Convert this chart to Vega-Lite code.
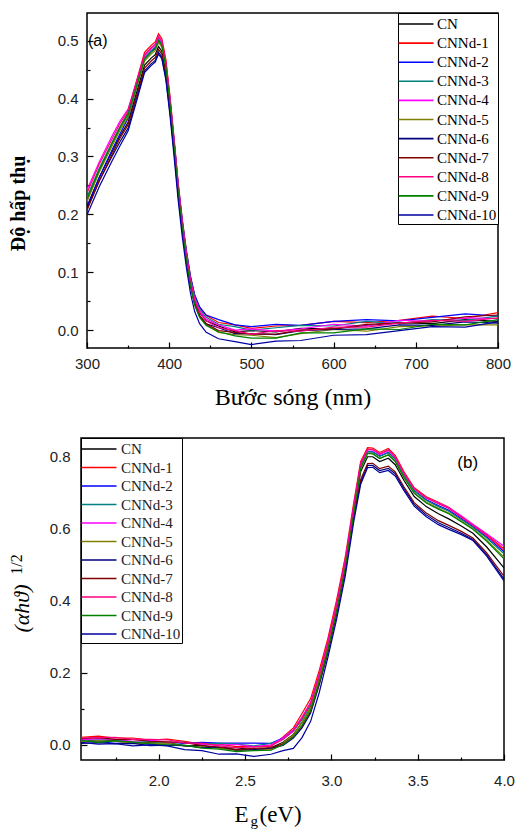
{
"$schema":"https://vega.github.io/schema/vega-lite/v6.json",
"background":"white",
"padding":{"left":7,"top":11,"right":10,"bottom":0},
"bounds":"flush",
"center":true,
"spacing":90,
"config":{
 "view":{"stroke":"black","strokeWidth":1.5},
 "axis":{"grid":false,"domain":false,"tickColor":"black","tickWidth":1.2,"labelFont":"Liberation Sans","labelFontSize":15,"labelColor":"#222222","labelFlush":false,"titleFont":"Liberation Serif, DejaVu Serif","titleColor":"black","titleFontWeight":"normal"}
},
"datasets":{
"a":[
{"s":"CN","x":300,"y":0.214},{"s":"CN","x":315,"y":0.264},{"s":"CN","x":330,"y":0.307},{"s":"CN","x":340,"y":0.335},{"s":"CN","x":350,"y":0.359},{"s":"CN","x":360,"y":0.409},{"s":"CN","x":370,"y":0.458},{"s":"CN","x":378,"y":0.470},{"s":"CN","x":383,"y":0.476},{"s":"CN","x":387,"y":0.490},{"s":"CN","x":391,"y":0.482},{"s":"CN","x":396,"y":0.445},{"s":"CN","x":401,"y":0.384},{"s":"CN","x":406,"y":0.315},{"s":"CN","x":411,"y":0.239},{"s":"CN","x":416,"y":0.177},{"s":"CN","x":421,"y":0.124},{"s":"CN","x":426,"y":0.082},{"s":"CN","x":431,"y":0.051},{"s":"CN","x":437,"y":0.030},{"s":"CN","x":445,"y":0.016},{"s":"CN","x":460,"y":0.007},{"s":"CN","x":480,"y":-0.003},{"s":"CN","x":500,"y":-0.001},{"s":"CN","x":530,"y":-0.003},{"s":"CN","x":560,"y":0.003},{"s":"CN","x":600,"y":0.002},{"s":"CN","x":640,"y":0.008},{"s":"CN","x":680,"y":0.013},{"s":"CN","x":720,"y":0.011},{"s":"CN","x":760,"y":0.018},{"s":"CN","x":800,"y":0.015},
{"s":"CNNd-1","x":300,"y":0.224},{"s":"CNNd-1","x":315,"y":0.276},{"s":"CNNd-1","x":330,"y":0.322},{"s":"CNNd-1","x":340,"y":0.351},{"s":"CNNd-1","x":350,"y":0.377},{"s":"CNNd-1","x":360,"y":0.429},{"s":"CNNd-1","x":370,"y":0.480},{"s":"CNNd-1","x":378,"y":0.492},{"s":"CNNd-1","x":383,"y":0.498},{"s":"CNNd-1","x":387,"y":0.512},{"s":"CNNd-1","x":391,"y":0.504},{"s":"CNNd-1","x":396,"y":0.467},{"s":"CNNd-1","x":401,"y":0.404},{"s":"CNNd-1","x":406,"y":0.331},{"s":"CNNd-1","x":411,"y":0.254},{"s":"CNNd-1","x":416,"y":0.191},{"s":"CNNd-1","x":421,"y":0.137},{"s":"CNNd-1","x":426,"y":0.092},{"s":"CNNd-1","x":431,"y":0.060},{"s":"CNNd-1","x":437,"y":0.039},{"s":"CNNd-1","x":445,"y":0.025},{"s":"CNNd-1","x":460,"y":0.013},{"s":"CNNd-1","x":480,"y":0.009},{"s":"CNNd-1","x":500,"y":0.003},{"s":"CNNd-1","x":530,"y":0.007},{"s":"CNNd-1","x":560,"y":0.008},{"s":"CNNd-1","x":600,"y":0.015},{"s":"CNNd-1","x":640,"y":0.013},{"s":"CNNd-1","x":680,"y":0.017},{"s":"CNNd-1","x":720,"y":0.024},{"s":"CNNd-1","x":760,"y":0.020},{"s":"CNNd-1","x":800,"y":0.030},
{"s":"CNNd-2","x":300,"y":0.212},{"s":"CNNd-2","x":315,"y":0.264},{"s":"CNNd-2","x":330,"y":0.310},{"s":"CNNd-2","x":340,"y":0.339},{"s":"CNNd-2","x":350,"y":0.366},{"s":"CNNd-2","x":360,"y":0.418},{"s":"CNNd-2","x":370,"y":0.470},{"s":"CNNd-2","x":378,"y":0.482},{"s":"CNNd-2","x":383,"y":0.488},{"s":"CNNd-2","x":387,"y":0.502},{"s":"CNNd-2","x":391,"y":0.494},{"s":"CNNd-2","x":396,"y":0.457},{"s":"CNNd-2","x":401,"y":0.396},{"s":"CNNd-2","x":406,"y":0.326},{"s":"CNNd-2","x":411,"y":0.250},{"s":"CNNd-2","x":416,"y":0.188},{"s":"CNNd-2","x":421,"y":0.135},{"s":"CNNd-2","x":426,"y":0.092},{"s":"CNNd-2","x":431,"y":0.061},{"s":"CNNd-2","x":437,"y":0.040},{"s":"CNNd-2","x":445,"y":0.026},{"s":"CNNd-2","x":460,"y":0.018},{"s":"CNNd-2","x":480,"y":0.009},{"s":"CNNd-2","x":500,"y":0.006},{"s":"CNNd-2","x":530,"y":0.010},{"s":"CNNd-2","x":560,"y":0.008},{"s":"CNNd-2","x":600,"y":0.015},{"s":"CNNd-2","x":640,"y":0.018},{"s":"CNNd-2","x":680,"y":0.016},{"s":"CNNd-2","x":720,"y":0.022},{"s":"CNNd-2","x":760,"y":0.028},{"s":"CNNd-2","x":800,"y":0.024},
{"s":"CNNd-3","x":300,"y":0.230},{"s":"CNNd-3","x":315,"y":0.280},{"s":"CNNd-3","x":330,"y":0.323},{"s":"CNNd-3","x":340,"y":0.351},{"s":"CNNd-3","x":350,"y":0.374},{"s":"CNNd-3","x":360,"y":0.423},{"s":"CNNd-3","x":370,"y":0.471},{"s":"CNNd-3","x":378,"y":0.483},{"s":"CNNd-3","x":383,"y":0.489},{"s":"CNNd-3","x":387,"y":0.503},{"s":"CNNd-3","x":391,"y":0.495},{"s":"CNNd-3","x":396,"y":0.458},{"s":"CNNd-3","x":401,"y":0.396},{"s":"CNNd-3","x":406,"y":0.325},{"s":"CNNd-3","x":411,"y":0.248},{"s":"CNNd-3","x":416,"y":0.185},{"s":"CNNd-3","x":421,"y":0.132},{"s":"CNNd-3","x":426,"y":0.088},{"s":"CNNd-3","x":431,"y":0.057},{"s":"CNNd-3","x":437,"y":0.036},{"s":"CNNd-3","x":445,"y":0.022},{"s":"CNNd-3","x":460,"y":0.010},{"s":"CNNd-3","x":480,"y":0.006},{"s":"CNNd-3","x":500,"y":0.000},{"s":"CNNd-3","x":530,"y":0.004},{"s":"CNNd-3","x":560,"y":0.008},{"s":"CNNd-3","x":600,"y":0.007},{"s":"CNNd-3","x":640,"y":0.015},{"s":"CNNd-3","x":680,"y":0.011},{"s":"CNNd-3","x":720,"y":0.018},{"s":"CNNd-3","x":760,"y":0.017},{"s":"CNNd-3","x":800,"y":0.024},
{"s":"CNNd-4","x":300,"y":0.242},{"s":"CNNd-4","x":315,"y":0.291},{"s":"CNNd-4","x":330,"y":0.334},{"s":"CNNd-4","x":340,"y":0.361},{"s":"CNNd-4","x":350,"y":0.382},{"s":"CNNd-4","x":360,"y":0.428},{"s":"CNNd-4","x":370,"y":0.474},{"s":"CNNd-4","x":378,"y":0.486},{"s":"CNNd-4","x":383,"y":0.492},{"s":"CNNd-4","x":387,"y":0.506},{"s":"CNNd-4","x":391,"y":0.498},{"s":"CNNd-4","x":396,"y":0.461},{"s":"CNNd-4","x":401,"y":0.398},{"s":"CNNd-4","x":406,"y":0.325},{"s":"CNNd-4","x":411,"y":0.248},{"s":"CNNd-4","x":416,"y":0.185},{"s":"CNNd-4","x":421,"y":0.131},{"s":"CNNd-4","x":426,"y":0.086},{"s":"CNNd-4","x":431,"y":0.054},{"s":"CNNd-4","x":437,"y":0.033},{"s":"CNNd-4","x":445,"y":0.019},{"s":"CNNd-4","x":460,"y":0.009},{"s":"CNNd-4","x":480,"y":0.000},{"s":"CNNd-4","x":500,"y":0.002},{"s":"CNNd-4","x":530,"y":-0.002},{"s":"CNNd-4","x":560,"y":0.002},{"s":"CNNd-4","x":600,"y":0.010},{"s":"CNNd-4","x":640,"y":0.007},{"s":"CNNd-4","x":680,"y":0.017},{"s":"CNNd-4","x":720,"y":0.015},{"s":"CNNd-4","x":760,"y":0.021},{"s":"CNNd-4","x":800,"y":0.020},
{"s":"CNNd-5","x":300,"y":0.222},{"s":"CNNd-5","x":315,"y":0.273},{"s":"CNNd-5","x":330,"y":0.317},{"s":"CNNd-5","x":340,"y":0.345},{"s":"CNNd-5","x":350,"y":0.368},{"s":"CNNd-5","x":360,"y":0.417},{"s":"CNNd-5","x":370,"y":0.465},{"s":"CNNd-5","x":378,"y":0.477},{"s":"CNNd-5","x":383,"y":0.483},{"s":"CNNd-5","x":387,"y":0.497},{"s":"CNNd-5","x":391,"y":0.489},{"s":"CNNd-5","x":396,"y":0.452},{"s":"CNNd-5","x":401,"y":0.388},{"s":"CNNd-5","x":406,"y":0.316},{"s":"CNNd-5","x":411,"y":0.239},{"s":"CNNd-5","x":416,"y":0.175},{"s":"CNNd-5","x":421,"y":0.121},{"s":"CNNd-5","x":426,"y":0.077},{"s":"CNNd-5","x":431,"y":0.044},{"s":"CNNd-5","x":437,"y":0.023},{"s":"CNNd-5","x":445,"y":0.009},{"s":"CNNd-5","x":460,"y":-0.004},{"s":"CNNd-5","x":480,"y":-0.008},{"s":"CNNd-5","x":500,"y":-0.009},{"s":"CNNd-5","x":530,"y":-0.013},{"s":"CNNd-5","x":560,"y":-0.006},{"s":"CNNd-5","x":600,"y":0.001},{"s":"CNNd-5","x":640,"y":-0.002},{"s":"CNNd-5","x":680,"y":0.006},{"s":"CNNd-5","x":720,"y":0.007},{"s":"CNNd-5","x":760,"y":0.009},{"s":"CNNd-5","x":800,"y":0.009},
{"s":"CNNd-6","x":300,"y":0.210},{"s":"CNNd-6","x":315,"y":0.258},{"s":"CNNd-6","x":330,"y":0.299},{"s":"CNNd-6","x":340,"y":0.325},{"s":"CNNd-6","x":350,"y":0.349},{"s":"CNNd-6","x":360,"y":0.399},{"s":"CNNd-6","x":370,"y":0.448},{"s":"CNNd-6","x":378,"y":0.460},{"s":"CNNd-6","x":383,"y":0.466},{"s":"CNNd-6","x":387,"y":0.480},{"s":"CNNd-6","x":391,"y":0.472},{"s":"CNNd-6","x":396,"y":0.435},{"s":"CNNd-6","x":401,"y":0.376},{"s":"CNNd-6","x":406,"y":0.307},{"s":"CNNd-6","x":411,"y":0.232},{"s":"CNNd-6","x":416,"y":0.171},{"s":"CNNd-6","x":421,"y":0.119},{"s":"CNNd-6","x":426,"y":0.076},{"s":"CNNd-6","x":431,"y":0.046},{"s":"CNNd-6","x":437,"y":0.025},{"s":"CNNd-6","x":445,"y":0.011},{"s":"CNNd-6","x":460,"y":0.004},{"s":"CNNd-6","x":480,"y":-0.006},{"s":"CNNd-6","x":500,"y":-0.006},{"s":"CNNd-6","x":530,"y":-0.008},{"s":"CNNd-6","x":560,"y":-0.001},{"s":"CNNd-6","x":600,"y":0.001},{"s":"CNNd-6","x":640,"y":0.002},{"s":"CNNd-6","x":680,"y":0.009},{"s":"CNNd-6","x":720,"y":0.008},{"s":"CNNd-6","x":760,"y":0.014},{"s":"CNNd-6","x":800,"y":0.012},
{"s":"CNNd-7","x":300,"y":0.207},{"s":"CNNd-7","x":315,"y":0.258},{"s":"CNNd-7","x":330,"y":0.302},{"s":"CNNd-7","x":340,"y":0.331},{"s":"CNNd-7","x":350,"y":0.355},{"s":"CNNd-7","x":360,"y":0.404},{"s":"CNNd-7","x":370,"y":0.453},{"s":"CNNd-7","x":378,"y":0.465},{"s":"CNNd-7","x":383,"y":0.471},{"s":"CNNd-7","x":387,"y":0.485},{"s":"CNNd-7","x":391,"y":0.477},{"s":"CNNd-7","x":396,"y":0.440},{"s":"CNNd-7","x":401,"y":0.379},{"s":"CNNd-7","x":406,"y":0.310},{"s":"CNNd-7","x":411,"y":0.234},{"s":"CNNd-7","x":416,"y":0.172},{"s":"CNNd-7","x":421,"y":0.119},{"s":"CNNd-7","x":426,"y":0.077},{"s":"CNNd-7","x":431,"y":0.046},{"s":"CNNd-7","x":437,"y":0.025},{"s":"CNNd-7","x":445,"y":0.011},{"s":"CNNd-7","x":460,"y":-0.001},{"s":"CNNd-7","x":480,"y":-0.004},{"s":"CNNd-7","x":500,"y":-0.007},{"s":"CNNd-7","x":530,"y":-0.007},{"s":"CNNd-7","x":560,"y":0.000},{"s":"CNNd-7","x":600,"y":0.002},{"s":"CNNd-7","x":640,"y":0.010},{"s":"CNNd-7","x":680,"y":0.012},{"s":"CNNd-7","x":720,"y":0.014},{"s":"CNNd-7","x":760,"y":0.023},{"s":"CNNd-7","x":800,"y":0.026},
{"s":"CNNd-8","x":300,"y":0.237},{"s":"CNNd-8","x":315,"y":0.287},{"s":"CNNd-8","x":330,"y":0.329},{"s":"CNNd-8","x":340,"y":0.357},{"s":"CNNd-8","x":350,"y":0.380},{"s":"CNNd-8","x":360,"y":0.428},{"s":"CNNd-8","x":370,"y":0.476},{"s":"CNNd-8","x":378,"y":0.488},{"s":"CNNd-8","x":383,"y":0.494},{"s":"CNNd-8","x":387,"y":0.508},{"s":"CNNd-8","x":391,"y":0.500},{"s":"CNNd-8","x":396,"y":0.463},{"s":"CNNd-8","x":401,"y":0.398},{"s":"CNNd-8","x":406,"y":0.325},{"s":"CNNd-8","x":411,"y":0.247},{"s":"CNNd-8","x":416,"y":0.183},{"s":"CNNd-8","x":421,"y":0.128},{"s":"CNNd-8","x":426,"y":0.084},{"s":"CNNd-8","x":431,"y":0.051},{"s":"CNNd-8","x":437,"y":0.030},{"s":"CNNd-8","x":445,"y":0.016},{"s":"CNNd-8","x":460,"y":0.004},{"s":"CNNd-8","x":480,"y":-0.001},{"s":"CNNd-8","x":500,"y":-0.007},{"s":"CNNd-8","x":530,"y":-0.001},{"s":"CNNd-8","x":560,"y":-0.002},{"s":"CNNd-8","x":600,"y":0.005},{"s":"CNNd-8","x":640,"y":0.005},{"s":"CNNd-8","x":680,"y":0.012},{"s":"CNNd-8","x":720,"y":0.017},{"s":"CNNd-8","x":760,"y":0.015},{"s":"CNNd-8","x":800,"y":0.021},
{"s":"CNNd-9","x":300,"y":0.227},{"s":"CNNd-9","x":315,"y":0.277},{"s":"CNNd-9","x":330,"y":0.321},{"s":"CNNd-9","x":340,"y":0.349},{"s":"CNNd-9","x":350,"y":0.372},{"s":"CNNd-9","x":360,"y":0.420},{"s":"CNNd-9","x":370,"y":0.468},{"s":"CNNd-9","x":378,"y":0.480},{"s":"CNNd-9","x":383,"y":0.486},{"s":"CNNd-9","x":387,"y":0.500},{"s":"CNNd-9","x":391,"y":0.492},{"s":"CNNd-9","x":396,"y":0.455},{"s":"CNNd-9","x":401,"y":0.390},{"s":"CNNd-9","x":406,"y":0.317},{"s":"CNNd-9","x":411,"y":0.239},{"s":"CNNd-9","x":416,"y":0.175},{"s":"CNNd-9","x":421,"y":0.120},{"s":"CNNd-9","x":426,"y":0.076},{"s":"CNNd-9","x":431,"y":0.043},{"s":"CNNd-9","x":437,"y":0.022},{"s":"CNNd-9","x":445,"y":0.008},{"s":"CNNd-9","x":460,"y":-0.003},{"s":"CNNd-9","x":480,"y":-0.010},{"s":"CNNd-9","x":500,"y":-0.014},{"s":"CNNd-9","x":530,"y":-0.014},{"s":"CNNd-9","x":560,"y":-0.005},{"s":"CNNd-9","x":600,"y":-0.005},{"s":"CNNd-9","x":640,"y":0.002},{"s":"CNNd-9","x":680,"y":0.001},{"s":"CNNd-9","x":720,"y":0.010},{"s":"CNNd-9","x":760,"y":0.009},{"s":"CNNd-9","x":800,"y":0.018},
{"s":"CNNd-10","x":300,"y":0.199},{"s":"CNNd-10","x":315,"y":0.248},{"s":"CNNd-10","x":330,"y":0.291},{"s":"CNNd-10","x":340,"y":0.318},{"s":"CNNd-10","x":350,"y":0.344},{"s":"CNNd-10","x":360,"y":0.394},{"s":"CNNd-10","x":370,"y":0.445},{"s":"CNNd-10","x":378,"y":0.457},{"s":"CNNd-10","x":383,"y":0.463},{"s":"CNNd-10","x":387,"y":0.477},{"s":"CNNd-10","x":391,"y":0.469},{"s":"CNNd-10","x":396,"y":0.432},{"s":"CNNd-10","x":401,"y":0.370},{"s":"CNNd-10","x":406,"y":0.299},{"s":"CNNd-10","x":411,"y":0.223},{"s":"CNNd-10","x":416,"y":0.160},{"s":"CNNd-10","x":421,"y":0.107},{"s":"CNNd-10","x":426,"y":0.063},{"s":"CNNd-10","x":431,"y":0.032},{"s":"CNNd-10","x":437,"y":0.011},{"s":"CNNd-10","x":445,"y":-0.004},{"s":"CNNd-10","x":460,"y":-0.015},{"s":"CNNd-10","x":480,"y":-0.020},{"s":"CNNd-10","x":500,"y":-0.025},{"s":"CNNd-10","x":530,"y":-0.019},{"s":"CNNd-10","x":560,"y":-0.018},{"s":"CNNd-10","x":600,"y":-0.009},{"s":"CNNd-10","x":640,"y":-0.008},{"s":"CNNd-10","x":680,"y":-0.001},{"s":"CNNd-10","x":720,"y":0.006},{"s":"CNNd-10","x":760,"y":0.005},{"s":"CNNd-10","x":800,"y":0.014}
],
"b":[
{"s":"CN","x":1.55,"y":0.015},{"s":"CN","x":1.65,"y":0.010},{"s":"CN","x":1.75,"y":0.013},{"s":"CN","x":1.85,"y":0.006},{"s":"CN","x":1.95,"y":0.007},{"s":"CN","x":2.05,"y":0.006},{"s":"CN","x":2.15,"y":-0.003},{"s":"CN","x":2.25,"y":-0.002},{"s":"CN","x":2.35,"y":-0.008},{"s":"CN","x":2.45,"y":-0.008},{"s":"CN","x":2.55,"y":-0.014},{"s":"CN","x":2.65,"y":-0.008},{"s":"CN","x":2.72,"y":0.007},{"s":"CN","x":2.78,"y":0.029},{"s":"CN","x":2.83,"y":0.062},{"s":"CN","x":2.88,"y":0.103},{"s":"CN","x":2.93,"y":0.181},{"s":"CN","x":2.98,"y":0.270},{"s":"CN","x":3.03,"y":0.375},{"s":"CN","x":3.08,"y":0.494},{"s":"CN","x":3.13,"y":0.647},{"s":"CN","x":3.17,"y":0.757},{"s":"CN","x":3.21,"y":0.798},{"s":"CN","x":3.24,"y":0.798},{"s":"CN","x":3.28,"y":0.785},{"s":"CN","x":3.33,"y":0.794},{"s":"CN","x":3.37,"y":0.776},{"s":"CN","x":3.42,"y":0.733},{"s":"CN","x":3.48,"y":0.688},{"s":"CN","x":3.55,"y":0.660},{"s":"CN","x":3.62,"y":0.640},{"s":"CN","x":3.68,"y":0.626},{"s":"CN","x":3.75,"y":0.607},{"s":"CN","x":3.82,"y":0.586},{"s":"CN","x":3.9,"y":0.548},{"s":"CN","x":4.0,"y":0.490},
{"s":"CNNd-1","x":1.55,"y":0.021},{"s":"CNNd-1","x":1.65,"y":0.024},{"s":"CNNd-1","x":1.75,"y":0.019},{"s":"CNNd-1","x":1.85,"y":0.019},{"s":"CNNd-1","x":1.95,"y":0.013},{"s":"CNNd-1","x":2.05,"y":0.016},{"s":"CNNd-1","x":2.15,"y":0.010},{"s":"CNNd-1","x":2.25,"y":0.002},{"s":"CNNd-1","x":2.35,"y":0.002},{"s":"CNNd-1","x":2.45,"y":-0.005},{"s":"CNNd-1","x":2.55,"y":-0.005},{"s":"CNNd-1","x":2.65,"y":-0.005},{"s":"CNNd-1","x":2.72,"y":0.022},{"s":"CNNd-1","x":2.78,"y":0.047},{"s":"CNNd-1","x":2.83,"y":0.087},{"s":"CNNd-1","x":2.88,"y":0.128},{"s":"CNNd-1","x":2.93,"y":0.206},{"s":"CNNd-1","x":2.98,"y":0.295},{"s":"CNNd-1","x":3.03,"y":0.400},{"s":"CNNd-1","x":3.08,"y":0.519},{"s":"CNNd-1","x":3.13,"y":0.672},{"s":"CNNd-1","x":3.17,"y":0.785},{"s":"CNNd-1","x":3.21,"y":0.823},{"s":"CNNd-1","x":3.24,"y":0.822},{"s":"CNNd-1","x":3.28,"y":0.810},{"s":"CNNd-1","x":3.33,"y":0.821},{"s":"CNNd-1","x":3.37,"y":0.802},{"s":"CNNd-1","x":3.42,"y":0.757},{"s":"CNNd-1","x":3.48,"y":0.712},{"s":"CNNd-1","x":3.55,"y":0.687},{"s":"CNNd-1","x":3.62,"y":0.672},{"s":"CNNd-1","x":3.68,"y":0.658},{"s":"CNNd-1","x":3.75,"y":0.634},{"s":"CNNd-1","x":3.82,"y":0.610},{"s":"CNNd-1","x":3.9,"y":0.582},{"s":"CNNd-1","x":4.0,"y":0.543},
{"s":"CNNd-2","x":1.55,"y":0.010},{"s":"CNNd-2","x":1.65,"y":0.009},{"s":"CNNd-2","x":1.75,"y":0.004},{"s":"CNNd-2","x":1.85,"y":0.007},{"s":"CNNd-2","x":1.95,"y":0.002},{"s":"CNNd-2","x":2.05,"y":-0.002},{"s":"CNNd-2","x":2.15,"y":0.004},{"s":"CNNd-2","x":2.25,"y":0.007},{"s":"CNNd-2","x":2.35,"y":0.005},{"s":"CNNd-2","x":2.45,"y":0.005},{"s":"CNNd-2","x":2.55,"y":0.005},{"s":"CNNd-2","x":2.65,"y":0.004},{"s":"CNNd-2","x":2.72,"y":0.019},{"s":"CNNd-2","x":2.78,"y":0.041},{"s":"CNNd-2","x":2.83,"y":0.072},{"s":"CNNd-2","x":2.88,"y":0.113},{"s":"CNNd-2","x":2.93,"y":0.191},{"s":"CNNd-2","x":2.98,"y":0.280},{"s":"CNNd-2","x":3.03,"y":0.385},{"s":"CNNd-2","x":3.08,"y":0.504},{"s":"CNNd-2","x":3.13,"y":0.657},{"s":"CNNd-2","x":3.17,"y":0.774},{"s":"CNNd-2","x":3.21,"y":0.813},{"s":"CNNd-2","x":3.24,"y":0.812},{"s":"CNNd-2","x":3.28,"y":0.800},{"s":"CNNd-2","x":3.33,"y":0.810},{"s":"CNNd-2","x":3.37,"y":0.792},{"s":"CNNd-2","x":3.42,"y":0.748},{"s":"CNNd-2","x":3.48,"y":0.704},{"s":"CNNd-2","x":3.55,"y":0.679},{"s":"CNNd-2","x":3.62,"y":0.663},{"s":"CNNd-2","x":3.68,"y":0.650},{"s":"CNNd-2","x":3.75,"y":0.628},{"s":"CNNd-2","x":3.82,"y":0.605},{"s":"CNNd-2","x":3.9,"y":0.576},{"s":"CNNd-2","x":4.0,"y":0.535},
{"s":"CNNd-3","x":1.55,"y":0.013},{"s":"CNNd-3","x":1.65,"y":0.014},{"s":"CNNd-3","x":1.75,"y":0.014},{"s":"CNNd-3","x":1.85,"y":0.007},{"s":"CNNd-3","x":1.95,"y":0.009},{"s":"CNNd-3","x":2.05,"y":0.005},{"s":"CNNd-3","x":2.15,"y":0.007},{"s":"CNNd-3","x":2.25,"y":0.002},{"s":"CNNd-3","x":2.35,"y":0.004},{"s":"CNNd-3","x":2.45,"y":0.002},{"s":"CNNd-3","x":2.55,"y":-0.003},{"s":"CNNd-3","x":2.65,"y":0.004},{"s":"CNNd-3","x":2.72,"y":0.016},{"s":"CNNd-3","x":2.78,"y":0.038},{"s":"CNNd-3","x":2.83,"y":0.070},{"s":"CNNd-3","x":2.88,"y":0.111},{"s":"CNNd-3","x":2.93,"y":0.189},{"s":"CNNd-3","x":2.98,"y":0.278},{"s":"CNNd-3","x":3.03,"y":0.383},{"s":"CNNd-3","x":3.08,"y":0.502},{"s":"CNNd-3","x":3.13,"y":0.655},{"s":"CNNd-3","x":3.17,"y":0.772},{"s":"CNNd-3","x":3.21,"y":0.812},{"s":"CNNd-3","x":3.24,"y":0.811},{"s":"CNNd-3","x":3.28,"y":0.799},{"s":"CNNd-3","x":3.33,"y":0.809},{"s":"CNNd-3","x":3.37,"y":0.791},{"s":"CNNd-3","x":3.42,"y":0.747},{"s":"CNNd-3","x":3.48,"y":0.703},{"s":"CNNd-3","x":3.55,"y":0.677},{"s":"CNNd-3","x":3.62,"y":0.660},{"s":"CNNd-3","x":3.68,"y":0.647},{"s":"CNNd-3","x":3.75,"y":0.625},{"s":"CNNd-3","x":3.82,"y":0.603},{"s":"CNNd-3","x":3.9,"y":0.573},{"s":"CNNd-3","x":4.0,"y":0.529},
{"s":"CNNd-4","x":1.55,"y":0.014},{"s":"CNNd-4","x":1.65,"y":0.017},{"s":"CNNd-4","x":1.75,"y":0.015},{"s":"CNNd-4","x":1.85,"y":0.010},{"s":"CNNd-4","x":1.95,"y":0.013},{"s":"CNNd-4","x":2.05,"y":0.007},{"s":"CNNd-4","x":2.15,"y":0.007},{"s":"CNNd-4","x":2.25,"y":0.001},{"s":"CNNd-4","x":2.35,"y":-0.001},{"s":"CNNd-4","x":2.45,"y":0.001},{"s":"CNNd-4","x":2.55,"y":-0.005},{"s":"CNNd-4","x":2.65,"y":0.000},{"s":"CNNd-4","x":2.72,"y":0.019},{"s":"CNNd-4","x":2.78,"y":0.041},{"s":"CNNd-4","x":2.83,"y":0.077},{"s":"CNNd-4","x":2.88,"y":0.118},{"s":"CNNd-4","x":2.93,"y":0.196},{"s":"CNNd-4","x":2.98,"y":0.285},{"s":"CNNd-4","x":3.03,"y":0.390},{"s":"CNNd-4","x":3.08,"y":0.509},{"s":"CNNd-4","x":3.13,"y":0.662},{"s":"CNNd-4","x":3.17,"y":0.779},{"s":"CNNd-4","x":3.21,"y":0.818},{"s":"CNNd-4","x":3.24,"y":0.817},{"s":"CNNd-4","x":3.28,"y":0.804},{"s":"CNNd-4","x":3.33,"y":0.815},{"s":"CNNd-4","x":3.37,"y":0.796},{"s":"CNNd-4","x":3.42,"y":0.752},{"s":"CNNd-4","x":3.48,"y":0.709},{"s":"CNNd-4","x":3.55,"y":0.684},{"s":"CNNd-4","x":3.62,"y":0.670},{"s":"CNNd-4","x":3.68,"y":0.657},{"s":"CNNd-4","x":3.75,"y":0.635},{"s":"CNNd-4","x":3.82,"y":0.611},{"s":"CNNd-4","x":3.9,"y":0.585},{"s":"CNNd-4","x":4.0,"y":0.550},
{"s":"CNNd-5","x":1.55,"y":0.009},{"s":"CNNd-5","x":1.65,"y":0.011},{"s":"CNNd-5","x":1.75,"y":0.010},{"s":"CNNd-5","x":1.85,"y":0.004},{"s":"CNNd-5","x":1.95,"y":0.005},{"s":"CNNd-5","x":2.05,"y":0.005},{"s":"CNNd-5","x":2.15,"y":-0.003},{"s":"CNNd-5","x":2.25,"y":-0.006},{"s":"CNNd-5","x":2.35,"y":-0.009},{"s":"CNNd-5","x":2.45,"y":-0.016},{"s":"CNNd-5","x":2.55,"y":-0.013},{"s":"CNNd-5","x":2.65,"y":-0.013},{"s":"CNNd-5","x":2.72,"y":0.005},{"s":"CNNd-5","x":2.78,"y":0.028},{"s":"CNNd-5","x":2.83,"y":0.062},{"s":"CNNd-5","x":2.88,"y":0.103},{"s":"CNNd-5","x":2.93,"y":0.181},{"s":"CNNd-5","x":2.98,"y":0.270},{"s":"CNNd-5","x":3.03,"y":0.375},{"s":"CNNd-5","x":3.08,"y":0.494},{"s":"CNNd-5","x":3.13,"y":0.647},{"s":"CNNd-5","x":3.17,"y":0.767},{"s":"CNNd-5","x":3.21,"y":0.808},{"s":"CNNd-5","x":3.24,"y":0.807},{"s":"CNNd-5","x":3.28,"y":0.794},{"s":"CNNd-5","x":3.33,"y":0.804},{"s":"CNNd-5","x":3.37,"y":0.786},{"s":"CNNd-5","x":3.42,"y":0.742},{"s":"CNNd-5","x":3.48,"y":0.698},{"s":"CNNd-5","x":3.55,"y":0.672},{"s":"CNNd-5","x":3.62,"y":0.655},{"s":"CNNd-5","x":3.68,"y":0.642},{"s":"CNNd-5","x":3.75,"y":0.621},{"s":"CNNd-5","x":3.82,"y":0.599},{"s":"CNNd-5","x":3.9,"y":0.567},{"s":"CNNd-5","x":4.0,"y":0.520},
{"s":"CNNd-6","x":1.55,"y":0.004},{"s":"CNNd-6","x":1.65,"y":0.006},{"s":"CNNd-6","x":1.75,"y":0.003},{"s":"CNNd-6","x":1.85,"y":0.004},{"s":"CNNd-6","x":1.95,"y":-0.002},{"s":"CNNd-6","x":2.05,"y":-0.001},{"s":"CNNd-6","x":2.15,"y":-0.002},{"s":"CNNd-6","x":2.25,"y":-0.008},{"s":"CNNd-6","x":2.35,"y":-0.006},{"s":"CNNd-6","x":2.45,"y":-0.014},{"s":"CNNd-6","x":2.55,"y":-0.013},{"s":"CNNd-6","x":2.65,"y":-0.009},{"s":"CNNd-6","x":2.72,"y":-0.002},{"s":"CNNd-6","x":2.78,"y":0.019},{"s":"CNNd-6","x":2.83,"y":0.047},{"s":"CNNd-6","x":2.88,"y":0.088},{"s":"CNNd-6","x":2.93,"y":0.166},{"s":"CNNd-6","x":2.98,"y":0.255},{"s":"CNNd-6","x":3.03,"y":0.360},{"s":"CNNd-6","x":3.08,"y":0.479},{"s":"CNNd-6","x":3.13,"y":0.632},{"s":"CNNd-6","x":3.17,"y":0.728},{"s":"CNNd-6","x":3.21,"y":0.774},{"s":"CNNd-6","x":3.24,"y":0.774},{"s":"CNNd-6","x":3.28,"y":0.760},{"s":"CNNd-6","x":3.33,"y":0.766},{"s":"CNNd-6","x":3.37,"y":0.751},{"s":"CNNd-6","x":3.42,"y":0.710},{"s":"CNNd-6","x":3.48,"y":0.666},{"s":"CNNd-6","x":3.55,"y":0.637},{"s":"CNNd-6","x":3.62,"y":0.615},{"s":"CNNd-6","x":3.68,"y":0.602},{"s":"CNNd-6","x":3.75,"y":0.587},{"s":"CNNd-6","x":3.82,"y":0.569},{"s":"CNNd-6","x":3.9,"y":0.527},{"s":"CNNd-6","x":4.0,"y":0.459},
{"s":"CNNd-7","x":1.55,"y":0.017},{"s":"CNNd-7","x":1.65,"y":0.020},{"s":"CNNd-7","x":1.75,"y":0.015},{"s":"CNNd-7","x":1.85,"y":0.015},{"s":"CNNd-7","x":1.95,"y":0.010},{"s":"CNNd-7","x":2.05,"y":0.008},{"s":"CNNd-7","x":2.15,"y":0.007},{"s":"CNNd-7","x":2.25,"y":-0.002},{"s":"CNNd-7","x":2.35,"y":-0.006},{"s":"CNNd-7","x":2.45,"y":-0.013},{"s":"CNNd-7","x":2.55,"y":-0.010},{"s":"CNNd-7","x":2.65,"y":-0.008},{"s":"CNNd-7","x":2.72,"y":0.002},{"s":"CNNd-7","x":2.78,"y":0.023},{"s":"CNNd-7","x":2.83,"y":0.052},{"s":"CNNd-7","x":2.88,"y":0.093},{"s":"CNNd-7","x":2.93,"y":0.171},{"s":"CNNd-7","x":2.98,"y":0.260},{"s":"CNNd-7","x":3.03,"y":0.365},{"s":"CNNd-7","x":3.08,"y":0.484},{"s":"CNNd-7","x":3.13,"y":0.637},{"s":"CNNd-7","x":3.17,"y":0.735},{"s":"CNNd-7","x":3.21,"y":0.779},{"s":"CNNd-7","x":3.24,"y":0.780},{"s":"CNNd-7","x":3.28,"y":0.765},{"s":"CNNd-7","x":3.33,"y":0.772},{"s":"CNNd-7","x":3.37,"y":0.756},{"s":"CNNd-7","x":3.42,"y":0.715},{"s":"CNNd-7","x":3.48,"y":0.671},{"s":"CNNd-7","x":3.55,"y":0.642},{"s":"CNNd-7","x":3.62,"y":0.621},{"s":"CNNd-7","x":3.68,"y":0.608},{"s":"CNNd-7","x":3.75,"y":0.592},{"s":"CNNd-7","x":3.82,"y":0.573},{"s":"CNNd-7","x":3.9,"y":0.532},{"s":"CNNd-7","x":4.0,"y":0.467},
{"s":"CNNd-8","x":1.55,"y":0.019},{"s":"CNNd-8","x":1.65,"y":0.020},{"s":"CNNd-8","x":1.75,"y":0.021},{"s":"CNNd-8","x":1.85,"y":0.015},{"s":"CNNd-8","x":1.95,"y":0.015},{"s":"CNNd-8","x":2.05,"y":0.014},{"s":"CNNd-8","x":2.15,"y":0.005},{"s":"CNNd-8","x":2.25,"y":0.005},{"s":"CNNd-8","x":2.35,"y":-0.003},{"s":"CNNd-8","x":2.45,"y":-0.008},{"s":"CNNd-8","x":2.55,"y":-0.006},{"s":"CNNd-8","x":2.65,"y":-0.003},{"s":"CNNd-8","x":2.72,"y":0.015},{"s":"CNNd-8","x":2.78,"y":0.038},{"s":"CNNd-8","x":2.83,"y":0.074},{"s":"CNNd-8","x":2.88,"y":0.115},{"s":"CNNd-8","x":2.93,"y":0.193},{"s":"CNNd-8","x":2.98,"y":0.282},{"s":"CNNd-8","x":3.03,"y":0.387},{"s":"CNNd-8","x":3.08,"y":0.506},{"s":"CNNd-8","x":3.13,"y":0.659},{"s":"CNNd-8","x":3.17,"y":0.781},{"s":"CNNd-8","x":3.21,"y":0.819},{"s":"CNNd-8","x":3.24,"y":0.818},{"s":"CNNd-8","x":3.28,"y":0.806},{"s":"CNNd-8","x":3.33,"y":0.817},{"s":"CNNd-8","x":3.37,"y":0.798},{"s":"CNNd-8","x":3.42,"y":0.753},{"s":"CNNd-8","x":3.48,"y":0.709},{"s":"CNNd-8","x":3.55,"y":0.684},{"s":"CNNd-8","x":3.62,"y":0.668},{"s":"CNNd-8","x":3.68,"y":0.655},{"s":"CNNd-8","x":3.75,"y":0.631},{"s":"CNNd-8","x":3.82,"y":0.608},{"s":"CNNd-8","x":3.9,"y":0.579},{"s":"CNNd-8","x":4.0,"y":0.539},
{"s":"CNNd-9","x":1.55,"y":0.012},{"s":"CNNd-9","x":1.65,"y":0.007},{"s":"CNNd-9","x":1.75,"y":0.011},{"s":"CNNd-9","x":1.85,"y":0.008},{"s":"CNNd-9","x":1.95,"y":0.003},{"s":"CNNd-9","x":2.05,"y":0.000},{"s":"CNNd-9","x":2.15,"y":-0.001},{"s":"CNNd-9","x":2.25,"y":-0.009},{"s":"CNNd-9","x":2.35,"y":-0.012},{"s":"CNNd-9","x":2.45,"y":-0.019},{"s":"CNNd-9","x":2.55,"y":-0.016},{"s":"CNNd-9","x":2.65,"y":-0.015},{"s":"CNNd-9","x":2.72,"y":0.000},{"s":"CNNd-9","x":2.78,"y":0.022},{"s":"CNNd-9","x":2.83,"y":0.054},{"s":"CNNd-9","x":2.88,"y":0.095},{"s":"CNNd-9","x":2.93,"y":0.173},{"s":"CNNd-9","x":2.98,"y":0.262},{"s":"CNNd-9","x":3.03,"y":0.367},{"s":"CNNd-9","x":3.08,"y":0.486},{"s":"CNNd-9","x":3.13,"y":0.639},{"s":"CNNd-9","x":3.17,"y":0.766},{"s":"CNNd-9","x":3.21,"y":0.807},{"s":"CNNd-9","x":3.24,"y":0.806},{"s":"CNNd-9","x":3.28,"y":0.793},{"s":"CNNd-9","x":3.33,"y":0.803},{"s":"CNNd-9","x":3.37,"y":0.785},{"s":"CNNd-9","x":3.42,"y":0.741},{"s":"CNNd-9","x":3.48,"y":0.697},{"s":"CNNd-9","x":3.55,"y":0.670},{"s":"CNNd-9","x":3.62,"y":0.653},{"s":"CNNd-9","x":3.68,"y":0.640},{"s":"CNNd-9","x":3.75,"y":0.619},{"s":"CNNd-9","x":3.82,"y":0.597},{"s":"CNNd-9","x":3.9,"y":0.564},{"s":"CNNd-9","x":4.0,"y":0.515},
{"s":"CNNd-10","x":1.55,"y":0.007},{"s":"CNNd-10","x":1.65,"y":0.002},{"s":"CNNd-10","x":1.75,"y":0.003},{"s":"CNNd-10","x":1.85,"y":-0.003},{"s":"CNNd-10","x":1.95,"y":0.000},{"s":"CNNd-10","x":2.05,"y":-0.003},{"s":"CNNd-10","x":2.15,"y":-0.013},{"s":"CNNd-10","x":2.25,"y":-0.016},{"s":"CNNd-10","x":2.35,"y":-0.026},{"s":"CNNd-10","x":2.45,"y":-0.025},{"s":"CNNd-10","x":2.55,"y":-0.032},{"s":"CNNd-10","x":2.65,"y":-0.026},{"s":"CNNd-10","x":2.72,"y":-0.016},{"s":"CNNd-10","x":2.78,"y":-0.010},{"s":"CNNd-10","x":2.83,"y":0.020},{"s":"CNNd-10","x":2.88,"y":0.065},{"s":"CNNd-10","x":2.93,"y":0.145},{"s":"CNNd-10","x":2.98,"y":0.242},{"s":"CNNd-10","x":3.03,"y":0.347},{"s":"CNNd-10","x":3.08,"y":0.466},{"s":"CNNd-10","x":3.13,"y":0.619},{"s":"CNNd-10","x":3.17,"y":0.722},{"s":"CNNd-10","x":3.21,"y":0.768},{"s":"CNNd-10","x":3.24,"y":0.769},{"s":"CNNd-10","x":3.28,"y":0.754},{"s":"CNNd-10","x":3.33,"y":0.760},{"s":"CNNd-10","x":3.37,"y":0.745},{"s":"CNNd-10","x":3.42,"y":0.705},{"s":"CNNd-10","x":3.48,"y":0.661},{"s":"CNNd-10","x":3.55,"y":0.632},{"s":"CNNd-10","x":3.62,"y":0.610},{"s":"CNNd-10","x":3.68,"y":0.597},{"s":"CNNd-10","x":3.75,"y":0.583},{"s":"CNNd-10","x":3.82,"y":0.566},{"s":"CNNd-10","x":3.9,"y":0.523},{"s":"CNNd-10","x":4.0,"y":0.454}
]
},
"vconcat":[
{
 "width":411,"height":335,
 "layer":[
  {"data":{"name":"a"},
   "mark":{"type":"line","strokeWidth":1.2,"clip":true},
   "encoding":{
    "x":{"field":"x","type":"quantitative","scale":{"domain":[300,800],"nice":false,"zero":false},
      "axis":{"values":[300,400,500,600,700,800],"offset":-6,"tickSize":6,"labelPadding":8,"title":"Bước sóng (nm)","titleFontSize":24,"titleX":205.5,"titleY":62,"titleBaseline":"alphabetic","titleAlign":"center"}},
    "y":{"field":"y","type":"quantitative","scale":{"domain":[-0.031,0.548],"nice":false,"zero":false},
      "axis":{"values":[0,0.1,0.2,0.3,0.4,0.5],"format":".1f","offset":-6,"tickSize":6,"labelPadding":9,"title":"Độ hấp thụ","titleFontSize":20,"titleFontWeight":"bold","titleX":-75,"titleY":190,"titleBaseline":"middle","titleAlign":"center","titleAngle":-90}},
    "color":{"field":"s","type":"nominal",
      "scale":{"domain":["CN","CNNd-1","CNNd-2","CNNd-3","CNNd-4","CNNd-5","CNNd-6","CNNd-7","CNNd-8","CNNd-9","CNNd-10"],
               "range":["#000000","#FF0000","#0000FF","#008080","#FF00FF","#808000","#000080","#800000","#FF0080","#008000","#0000A0"]},
      "legend":{"orient":"top-right","offset":0,"title":null,"strokeColor":"black","fillColor":"white","padding":1,"symbolType":"M-2,0H2","symbolSize":306,"symbolStrokeWidth":1.6,"symbolOffset":7,"labelFont":"Liberation Serif","labelFontSize":15,"labelColor":"black","labelOffset":11,"rowPadding":1.1}}
   }},
  {"data":{"values":[{}]},
   "mark":{"type":"text","text":"(a)","align":"left","baseline":"middle","dx":1,"font":"Liberation Sans","fontSize":16,"color":"black"},
   "encoding":{"x":{"datum":300,"type":"quantitative","axis":null},"y":{"datum":0.5,"type":"quantitative","axis":null}}},
  {"data":{"values":[{}]},
   "mark":{"type":"point","opacity":0},
   "encoding":{
    "x":{"datum":300,"type":"quantitative","axis":{"orient":"bottom","values":[350,450,550,650,750],"labels":false,"offset":-3,"tickSize":3,"title":null}},
    "y":{"datum":0,"type":"quantitative","axis":{"orient":"left","values":[0.05,0.15,0.25,0.35,0.45],"labels":false,"offset":-3,"tickSize":3,"title":null}}}}
 ],
 "resolve":{"axis":{"x":"independent","y":"independent"}}
},
{
 "width":423,"height":322,
 "layer":[
  {"data":{"name":"b"},
   "mark":{"type":"line","strokeWidth":1.2,"clip":true},
   "encoding":{
    "x":{"field":"x","type":"quantitative","scale":{"domain":[1.55,4.0],"nice":false,"zero":false},
      "axis":{"values":[2,2.5,3,3.5,4],"format":".1f","offset":-6,"tickSize":6,"labelPadding":13,"title":"E","titleFontSize":23,"titleX":153,"titleY":67,"titleBaseline":"alphabetic","titleAlign":"left"}},
    "y":{"field":"y","type":"quantitative","scale":{"domain":[-0.042,0.85],"nice":false,"zero":false},
      "axis":{"values":[0,0.2,0.4,0.6,0.8],"format":".1f","offset":-6,"tickSize":6,"labelPadding":11,"title":"(αhϑ)","titleFontSize":22,"titleFontStyle":"italic","titleX":-66,"titleY":170,"titleBaseline":"middle","titleAlign":"center","titleAngle":-90}},
    "color":{"field":"s","type":"nominal",
      "scale":{"domain":["CN","CNNd-1","CNNd-2","CNNd-3","CNNd-4","CNNd-5","CNNd-6","CNNd-7","CNNd-8","CNNd-9","CNNd-10"],
               "range":["#000000","#FF0000","#0000FF","#008080","#FF00FF","#808000","#000080","#800000","#FF0080","#008000","#0000A0"]},
      "legend":{"orient":"top-left","offset":0,"title":null,"strokeColor":"black","fillColor":"white","padding":1,"symbolType":"M-2,0H2","symbolSize":306,"symbolStrokeWidth":1.6,"symbolOffset":7,"labelFont":"Liberation Serif","labelFontSize":15,"labelColor":"#222222","labelOffset":12,"rowPadding":0.5}}
   }},
  {"data":{"values":[{}]},
   "mark":{"type":"text","text":"(b)","align":"center","baseline":"middle","font":"Liberation Sans","fontSize":17,"color":"black"},
   "encoding":{"x":{"datum":3.79,"type":"quantitative","axis":null},"y":{"datum":0.78,"type":"quantitative","axis":null}}},
  {"data":{"values":[{}]},
   "mark":{"type":"point","opacity":0},
   "encoding":{
    "x":{"datum":2,"type":"quantitative","axis":{"orient":"bottom","values":[1.75,2.25,2.75,3.25,3.75],"labels":false,"offset":-3,"tickSize":3,"title":"g","titleFontSize":15,"titleX":169,"titleY":68,"titleBaseline":"alphabetic","titleAlign":"left"}},
    "y":{"datum":0,"type":"quantitative","axis":{"orient":"left","values":[0.1,0.3,0.5,0.7],"labels":false,"offset":-3,"tickSize":3,"title":"1/2","titleFontSize":16,"titleX":-68,"titleY":126,"titleBaseline":"middle","titleAlign":"center","titleAngle":-90}}}},
  {"data":{"values":[{}]},
   "mark":{"type":"point","opacity":0},
   "encoding":{
    "x":{"datum":2,"type":"quantitative","axis":{"orient":"bottom","values":[],"labels":false,"ticks":false,"offset":-6,"title":"(eV)","titleFontSize":23,"titleX":178,"titleY":67,"titleBaseline":"alphabetic","titleAlign":"left"}},
    "y":{"datum":0,"type":"quantitative","axis":null}}}
 ],
 "resolve":{"axis":{"x":"independent","y":"independent"}}
}
],
"resolve":{"scale":{"color":"independent"},"legend":{"color":"independent"}}
}
